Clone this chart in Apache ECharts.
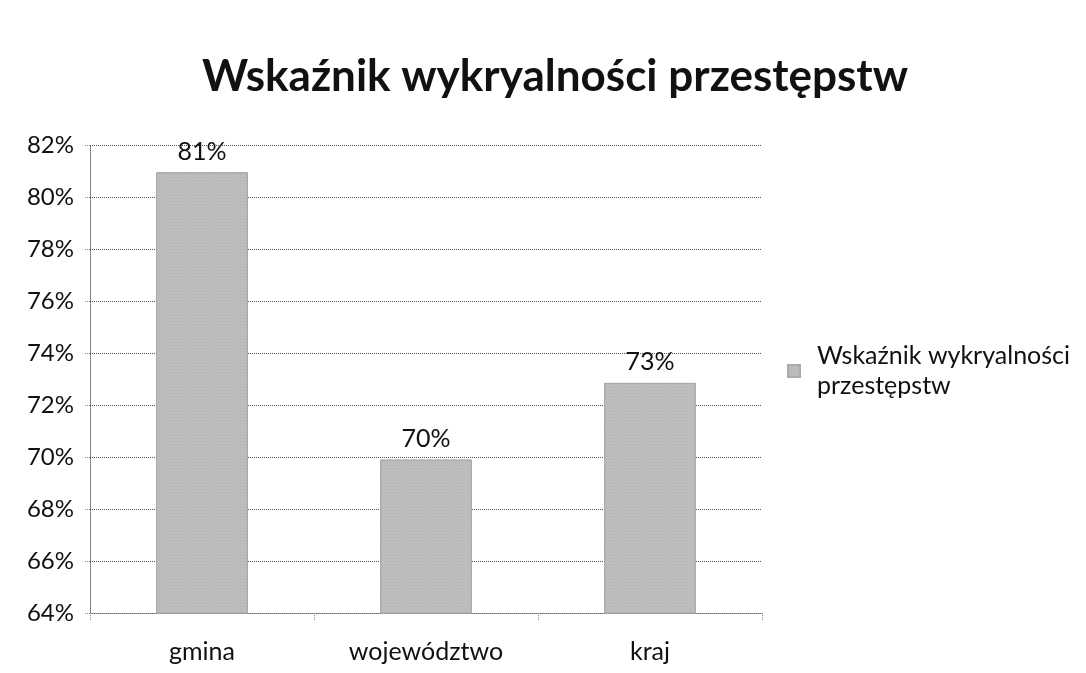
<!DOCTYPE html>
<html>
<head>
<meta charset="utf-8">
<script src="https://cdn.jsdelivr.net/npm/echarts@6/dist/echarts.min.js"></script>
<style>html,body{margin:0;padding:0;background:#fff;}#c{width:1086px;height:673px;}</style>
</head>
<body>
<div id="c"></div>
<script>
const title = 'Wskaźnik wykryalności przestępstw';
const categories = ['gmina', 'województwo', 'kraj'];
const seriesName = 'Wskaźnik wykryalności przestępstw';
const values = [80.95, 69.9, 72.85];
const yMin = 64, yMax = 82, yStep = 2;

const font = 'Lato, "Open Sans", sans-serif';
const chart = echarts.init(document.getElementById('c'));
chart.setOption({
  backgroundColor: '#fff',
  animation: false,
  title: {
    text: title, left: 550, textAlign: 'center', top: 50,
    textStyle: { fontFamily: font, fontSize: 44, fontWeight: 'bold', color: '#111' }
  },
  legend: {
    left: 782, top: 336, orient: 'vertical',
    itemWidth: 12, itemHeight: 12, itemGap: 4,
    formatter: () => 'Wskaźnik wykryalności\nprzestępstw',
    textStyle: { fontFamily: font, fontSize: 25, color: '#111', lineHeight: 30, padding: [0, 0, 0, 12] },
    data: [{ name: seriesName, icon: 'rect' }]
  },
  grid: { left: 90, right: 324, top: 145, bottom: 60 },
  xAxis: {
    type: 'category', data: categories,
    axisLine: { show: true, lineStyle: { color: '#666', type: 'dotted', width: 1 } },
    axisTick: { show: true, length: 8, lineStyle: { color: '#888', type: 'dotted' } },
    axisLabel: { fontFamily: font, fontSize: 25, color: '#111', margin: 26 }
  },
  yAxis: {
    type: 'value', min: yMin, max: yMax, interval: yStep,
    axisLine: { show: true, lineStyle: { color: '#666', type: 'dotted' } },
    axisTick: { show: true, length: 5, lineStyle: { color: '#888', type: 'dotted' } },
    axisLabel: { fontFamily: font, fontSize: 24, color: '#111', margin: 16, formatter: v => v + '%' },
    splitLine: { show: true, lineStyle: { color: '#555', type: 'dotted', width: 1 } }
  },
  series: [{
    name: seriesName, type: 'bar', data: values, barWidth: '41%',
    itemStyle: {
      color: '#bdbdbd', borderColor: '#aaa', borderWidth: 1,
      decal: { symbol: 'rect', symbolSize: 0.5, dashArrayX: [1, 2], dashArrayY: [1, 2], color: 'rgba(90,90,90,0.4)', rotation: 0 }
    },
    label: {
      show: true, position: 'top', distance: 8,
      fontFamily: font, fontSize: 25, color: '#111',
      formatter: p => Math.round(p.value) + '%'
    }
  }]
});
</script>
</body>
</html>
